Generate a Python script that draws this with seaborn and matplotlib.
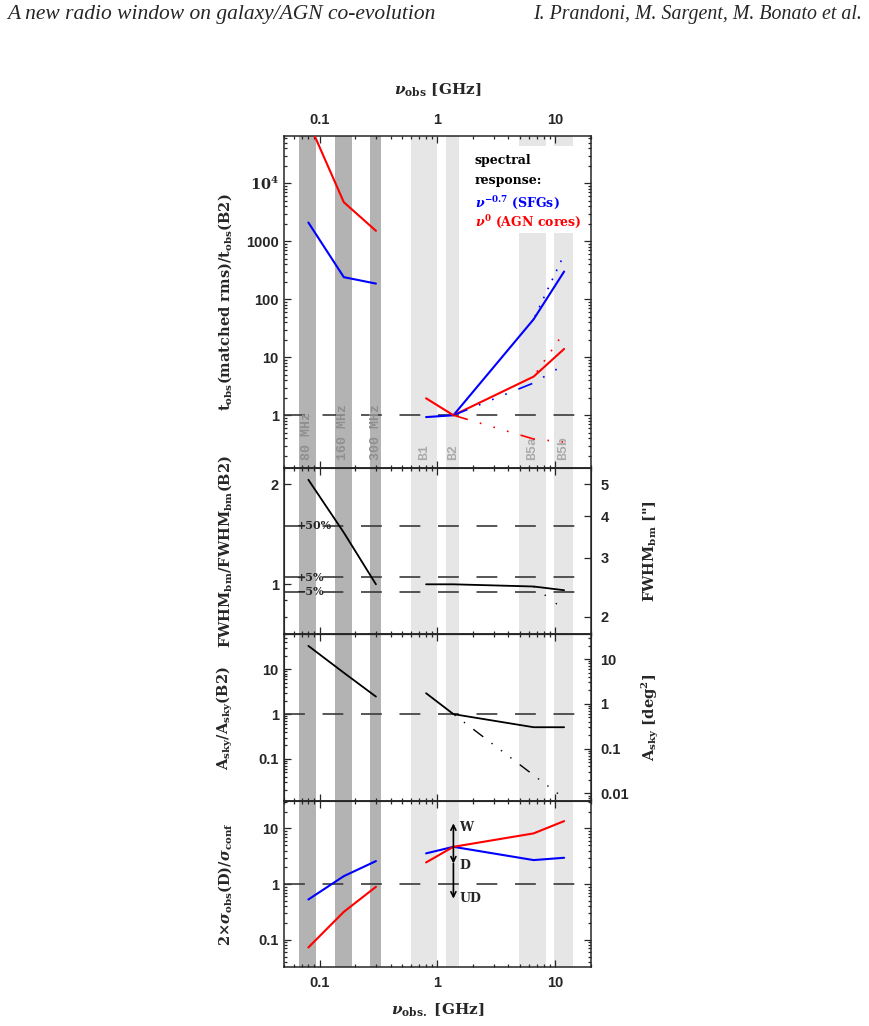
import numpy as np
import matplotlib.pyplot as plt
import matplotlib.ticker as mticker
from matplotlib.patches import Rectangle
import seaborn as sns

# observing frequencies [GHz]
nu_low = [0.08, 0.16, 0.3]
nu_ska = [0.8, 1.365, 6.55, 11.9]
nu_b2_on = [1.365, 6.55, 11.9]
nu_b5_on = [6.55, 11.9]

# t_obs(matched rms) / t_obs(B2)
tobs_sfg_low = [2100, 240, 186]
tobs_agn_low = [115000, 4700, 1510]
tobs_sfg = [0.93, 1.0, 45, 300]
tobs_agn = [1.96, 1.0, 4.63, 13.9]
tobs_sfg_alt = [1.0, 3.6, 7.4]
tobs_sfg_alt_b5 = [45, 590]
tobs_agn_alt = [1.0, 0.39, 0.345]
tobs_agn_alt_b5 = [4.63, 27]

# FWHM_bm / FWHM_bm(B2)
fwhm_low = [2.06, 1.43, 1.0]
fwhm_ska = [1.0, 1.0, 0.985, 0.96]
fwhm_alt_b5 = [0.985, 0.84]
fwhm_refs = [1.5, 1.05, 0.95]
fwhm_ref_labels = ["+50%", "+5%", "\u22125%"]

# A_sky / A_sky(B2)
asky_low = [33.4, 8.4, 2.46]
asky_ska = [2.93, 1.0, 0.51, 0.51]
asky_alt = [1.0, 0.0434, 0.0132]

# 2 x sigma_obs(D) / sigma_conf
sig_sfg_low = [0.53, 1.39, 2.59]
sig_agn_low = [0.073, 0.318, 0.895]
sig_sfg = [3.56, 4.67, 2.70, 2.97]
sig_agn = [2.45, 4.67, 8.13, 13.5]

# survey tiers (wide / deep / ultra-deep) marked at B2
tier_levels = [12.3, 4.67, 2.35, 0.55]
tier_labels = ["W", "D", "UD"]

# frequency bands
dark_bands = [(0.0667, 0.0925), (0.135, 0.187), (0.2675, 0.332)]
dark_names = ["80 MHz", "160 MHz", "300 MHz"]
light_bands = [(0.597, 1.0), (1.187, 1.53), (4.94, 8.34), (9.8, 14.1)]
light_names = ["B1", "B2", "B5a", "B5b"]

FWHM_B2 = 2.5    # arcsec
ASKY_B2 = 0.59   # deg^2

sns.set_style("ticks")
plt.rcParams["font.family"] = ["DejaVu Serif"]
plt.rcParams["font.weight"] = "bold"
plt.rcParams["mathtext.fontset"] = "dejavuserif"
plt.rcParams["axes.labelweight"] = "bold"

BLUE, RED, BLACK = "#0000ff", "#ff0000", "black"


def alt(offset=0):
    # dash - dot - dot - dot
    return (offset, (9, 7.5, 1, 7.5, 1, 7.5, 1, 7.5))


def dots(offset=0, gap=6):
    return (offset, (1, gap))


DASH = (0, (12.5, 10.6))

fig = plt.figure(figsize=(8.69, 10.26), dpi=100)
L, W = 0.3272, 0.3525
ax1 = fig.add_axes([L, 0.5436, W, 0.3242])
ax2 = fig.add_axes([L, 0.3816, W, 0.1620])
ax3 = fig.add_axes([L, 0.2193, W, 0.1623])
ax4 = fig.add_axes([L, 0.0578, W, 0.1615])


def style(ax):
    ax.set_xscale("log")
    ax.set_yscale("log")
    ax.set_xlim(0.05, 20)
    ax.set_xticks([0.1, 1, 10], ["0.1", "1", "10"])
    ax.xaxis.set_minor_locator(mticker.LogLocator(base=10, subs=np.arange(2, 10), numticks=30))
    ax.xaxis.set_minor_formatter(mticker.NullFormatter())
    ax.yaxis.set_minor_formatter(mticker.NullFormatter())
    ax.tick_params(which="both", direction="in", top=True, bottom=True, left=True, right=True,
                   labelbottom=False, labeltop=False, width=0.9,
                   labelsize=10.5, labelfontfamily="Liberation Sans", pad=4)
    ax.tick_params(which="major", length=5)
    ax.tick_params(which="minor", length=2.5)
    for s in ax.spines.values():
        s.set_linewidth(1.1)
    for lo, hi in dark_bands:
        ax.axvspan(lo, hi, color="#b3b3b3", lw=0, zorder=0)
    for lo, hi in light_bands:
        ax.axvspan(lo, hi, color="#e6e6e6", lw=0, zorder=0)


def line(ax, x, y, color, ls="-", lw=1.5):
    sns.lineplot(x=x, y=y, ax=ax, color=color, linewidth=lw, linestyle=ls, zorder=3)


def ref(ax, y):
    ax.axhline(y, color="#3a3a3a", lw=1.2, linestyle=DASH, zorder=2)


for ax in (ax1, ax2, ax3, ax4):
    style(ax)

# ---------------- panel 1 ----------------
ax1.set_ylim(0.122, 66000)
ax1.set_yticks([1, 10, 100, 1000, 1e4], ["1", "10", "100", "1000", r"$\mathbf{10^4}$"])
ax1.tick_params(labeltop=True, pad=6)
ax1.tick_params(axis="y", pad=4)
ax1.xaxis.set_label_position("top")
ax1.set_xlabel(r"$\nu_{\mathbf{obs}}$ [GHz]", fontsize=11, va="center")
ax1.xaxis.set_label_coords(0.5, 1.137)
ax1.add_patch(Rectangle((0.6, 0.7075), 0.37, 0.2615, transform=ax1.transAxes,
                        facecolor="white", edgecolor="none", zorder=1))
ref(ax1, 1)
for (lo, hi), name in zip(dark_bands, dark_names):
    ax1.text(np.sqrt(lo * hi), 0.025, name, transform=ax1.get_xaxis_transform(),
             rotation=90, ha="center", va="bottom", color="#8f8f8f",
             family="Liberation Mono", fontsize=9.5, zorder=2)
for (lo, hi), name in zip(light_bands, light_names):
    ax1.text(np.sqrt(lo * hi), 0.025, name, transform=ax1.get_xaxis_transform(),
             rotation=90, ha="center", va="bottom", color="#ababab",
             family="Liberation Mono", fontsize=9.5, zorder=2)
line(ax1, nu_low, tobs_agn_low, RED)
line(ax1, nu_low, tobs_sfg_low, BLUE)
line(ax1, nu_ska, tobs_sfg, BLUE)
line(ax1, nu_ska, tobs_agn, RED)
line(ax1, nu_b2_on, tobs_sfg_alt, BLUE, alt(), 1.2)
line(ax1, nu_b5_on, tobs_sfg_alt_b5, BLUE, dots(4, 5), 1.2)
line(ax1, nu_b2_on, tobs_agn_alt, RED, alt(), 1.2)
line(ax1, nu_b5_on, tobs_agn_alt_b5, RED, dots(4, 6.5), 1.2)
ax1.set_ylabel(r"t$_{\mathbf{obs}}$(matched rms)/t$_{\mathbf{obs}}$(B2)", fontsize=10.5, va="center")
ax1.yaxis.set_label_coords(-0.193, 0.5)

legend_lines = [("spectral", BLACK, 0.915), ("response:", BLACK, 0.855),
                (r"$\nu^{\mathbf{-0.7}}$ (SFGs)", BLUE, 0.7865),
                (r"$\nu^{\mathbf{0}}$ (AGN cores)", RED, 0.7285)]
for txt, col, yy in legend_lines:
    ax1.text(0.622, yy, txt, transform=ax1.transAxes, color=col, fontsize=9,
             va="baseline", ha="left", zorder=4)

# ---------------- panel 2 ----------------
ax2.set_ylim(0.707, 2.23)
ax2.set_yticks([1, 2], ["1", "2"])
ax2.set_yticks([0.8, 0.9], minor=True)
for y, lab in zip(fwhm_refs, fwhm_ref_labels):
    ref(ax2, y)
    ax2.text(0.04, y, lab, transform=ax2.get_yaxis_transform(), fontsize=8,
             va="center", ha="left", zorder=4)
line(ax2, nu_low, fwhm_low, BLACK, lw=1.3)
line(ax2, nu_ska, fwhm_ska, BLACK, lw=1.3)
line(ax2, nu_b5_on, fwhm_alt_b5, BLACK, dots(0, 9), 1.0)
ax2.set_ylabel(r"FWHM$_{\mathbf{bm}}$/FWHM$_{\mathbf{bm}}$(B2)", fontsize=10.5, va="center")
ax2.yaxis.set_label_coords(-0.193, 0.5)
ax2r = ax2.twinx()
ax2r.set_yscale("log")
ax2r.set_ylim(0.707 * FWHM_B2, 2.23 * FWHM_B2)
ax2r.set_yticks([2, 3, 4, 5], ["2", "3", "4", "5"])
ax2r.yaxis.set_minor_locator(mticker.NullLocator())
ax2r.tick_params(which="both", direction="in", length=5, width=0.9, labelsize=10.5,
                 labelfontfamily="Liberation Sans", pad=7)
ax2r.set_ylabel(r'FWHM$_{\mathbf{bm}}$ ["]', fontsize=10.5, va="center")
ax2r.yaxis.set_label_coords(1.1935, 0.5)

# ---------------- panel 3 ----------------
ax3.set_ylim(0.0115, 60)
ax3.set_yticks([0.1, 1, 10], ["0.1", "1", "10"])
ref(ax3, 1)
line(ax3, nu_low, asky_low, BLACK, lw=1.3)
line(ax3, nu_ska, asky_ska, BLACK, lw=1.3)
line(ax3, nu_b2_on, asky_alt, BLACK, alt(24), 1.0)
ax3.set_ylabel(r"A$_{\mathbf{sky}}$/A$_{\mathbf{sky}}$(B2)", fontsize=10.5, va="center")
ax3.yaxis.set_label_coords(-0.193, 0.5)
ax3r = ax3.twinx()
ax3r.set_yscale("log")
ax3r.set_ylim(0.0115 * ASKY_B2, 60 * ASKY_B2)
ax3r.set_yticks([0.01, 0.1, 1, 10], ["0.01", "0.1", "1", "10"])
ax3r.yaxis.set_minor_locator(mticker.LogLocator(base=10, subs=np.arange(2, 10), numticks=30))
ax3r.yaxis.set_minor_formatter(mticker.NullFormatter())
ax3r.tick_params(which="both", direction="in", width=0.9, labelsize=10.5,
                 labelfontfamily="Liberation Sans", pad=7)
ax3r.tick_params(which="major", length=5)
ax3r.tick_params(which="minor", length=2.5)
ax3r.set_ylabel(r"A$_{\mathbf{sky}}$ [deg$^{\mathbf{2}}$]", fontsize=10.5, va="center")
ax3r.yaxis.set_label_coords(1.1935, 0.5)

# ---------------- panel 4 ----------------
ax4.set_ylim(0.033, 31)
ax4.set_yticks([0.1, 1, 10], ["0.1", "1", "10"])
ax4.tick_params(labelbottom=True, pad=7)
ax4.tick_params(axis="y", pad=4)
ref(ax4, 1)
line(ax4, nu_low, sig_sfg_low, BLUE)
line(ax4, nu_low, sig_agn_low, RED)
line(ax4, nu_ska, sig_sfg, BLUE)
line(ax4, nu_ska, sig_agn, RED)
nu_b2 = nu_ska[1]
arrow_kw = dict(arrowstyle="->", lw=1.2, color="black", shrinkA=0, shrinkB=0,
                mutation_scale=9)
ax4.annotate("", xy=(nu_b2, tier_levels[0]), xytext=(nu_b2, tier_levels[1]), arrowprops=arrow_kw, zorder=5)
ax4.annotate("", xy=(nu_b2, tier_levels[2]), xytext=(nu_b2, tier_levels[1]), arrowprops=arrow_kw, zorder=5)
ax4.annotate("", xy=(nu_b2, tier_levels[3]), xytext=(nu_b2, tier_levels[2]), arrowprops=arrow_kw, zorder=5)
for lab, yv in zip(tier_labels, [10.5, 2.19, 0.56]):
    ax4.text(1.535, yv, lab, fontsize=9, ha="left", va="center", zorder=5)
ax4.set_ylabel(r"2$\times\sigma_{\mathbf{obs}}$(D)/$\sigma_{\mathbf{conf}}$", fontsize=10.5, va="center")
ax4.yaxis.set_label_coords(-0.193, 0.5)
ax4.set_xlabel(r"$\nu_{\mathbf{obs.}}$ [GHz]", fontsize=11, va="center")
ax4.xaxis.set_label_coords(0.5, -0.261)

# running header
fig.text(7 / 869, 1 - 19 / 1026, "A new radio window on galaxy/AGN co-evolution",
         family="Liberation Serif", style="italic", weight="normal", fontsize=15.5, va="baseline")
fig.text(862 / 869, 1 - 19 / 1026, "I. Prandoni, M. Sargent, M. Bonato et al.",
         family="Liberation Serif", style="italic", weight="normal", fontsize=14.3,
         va="baseline", ha="right")

fig.savefig("out.png", dpi=100)
